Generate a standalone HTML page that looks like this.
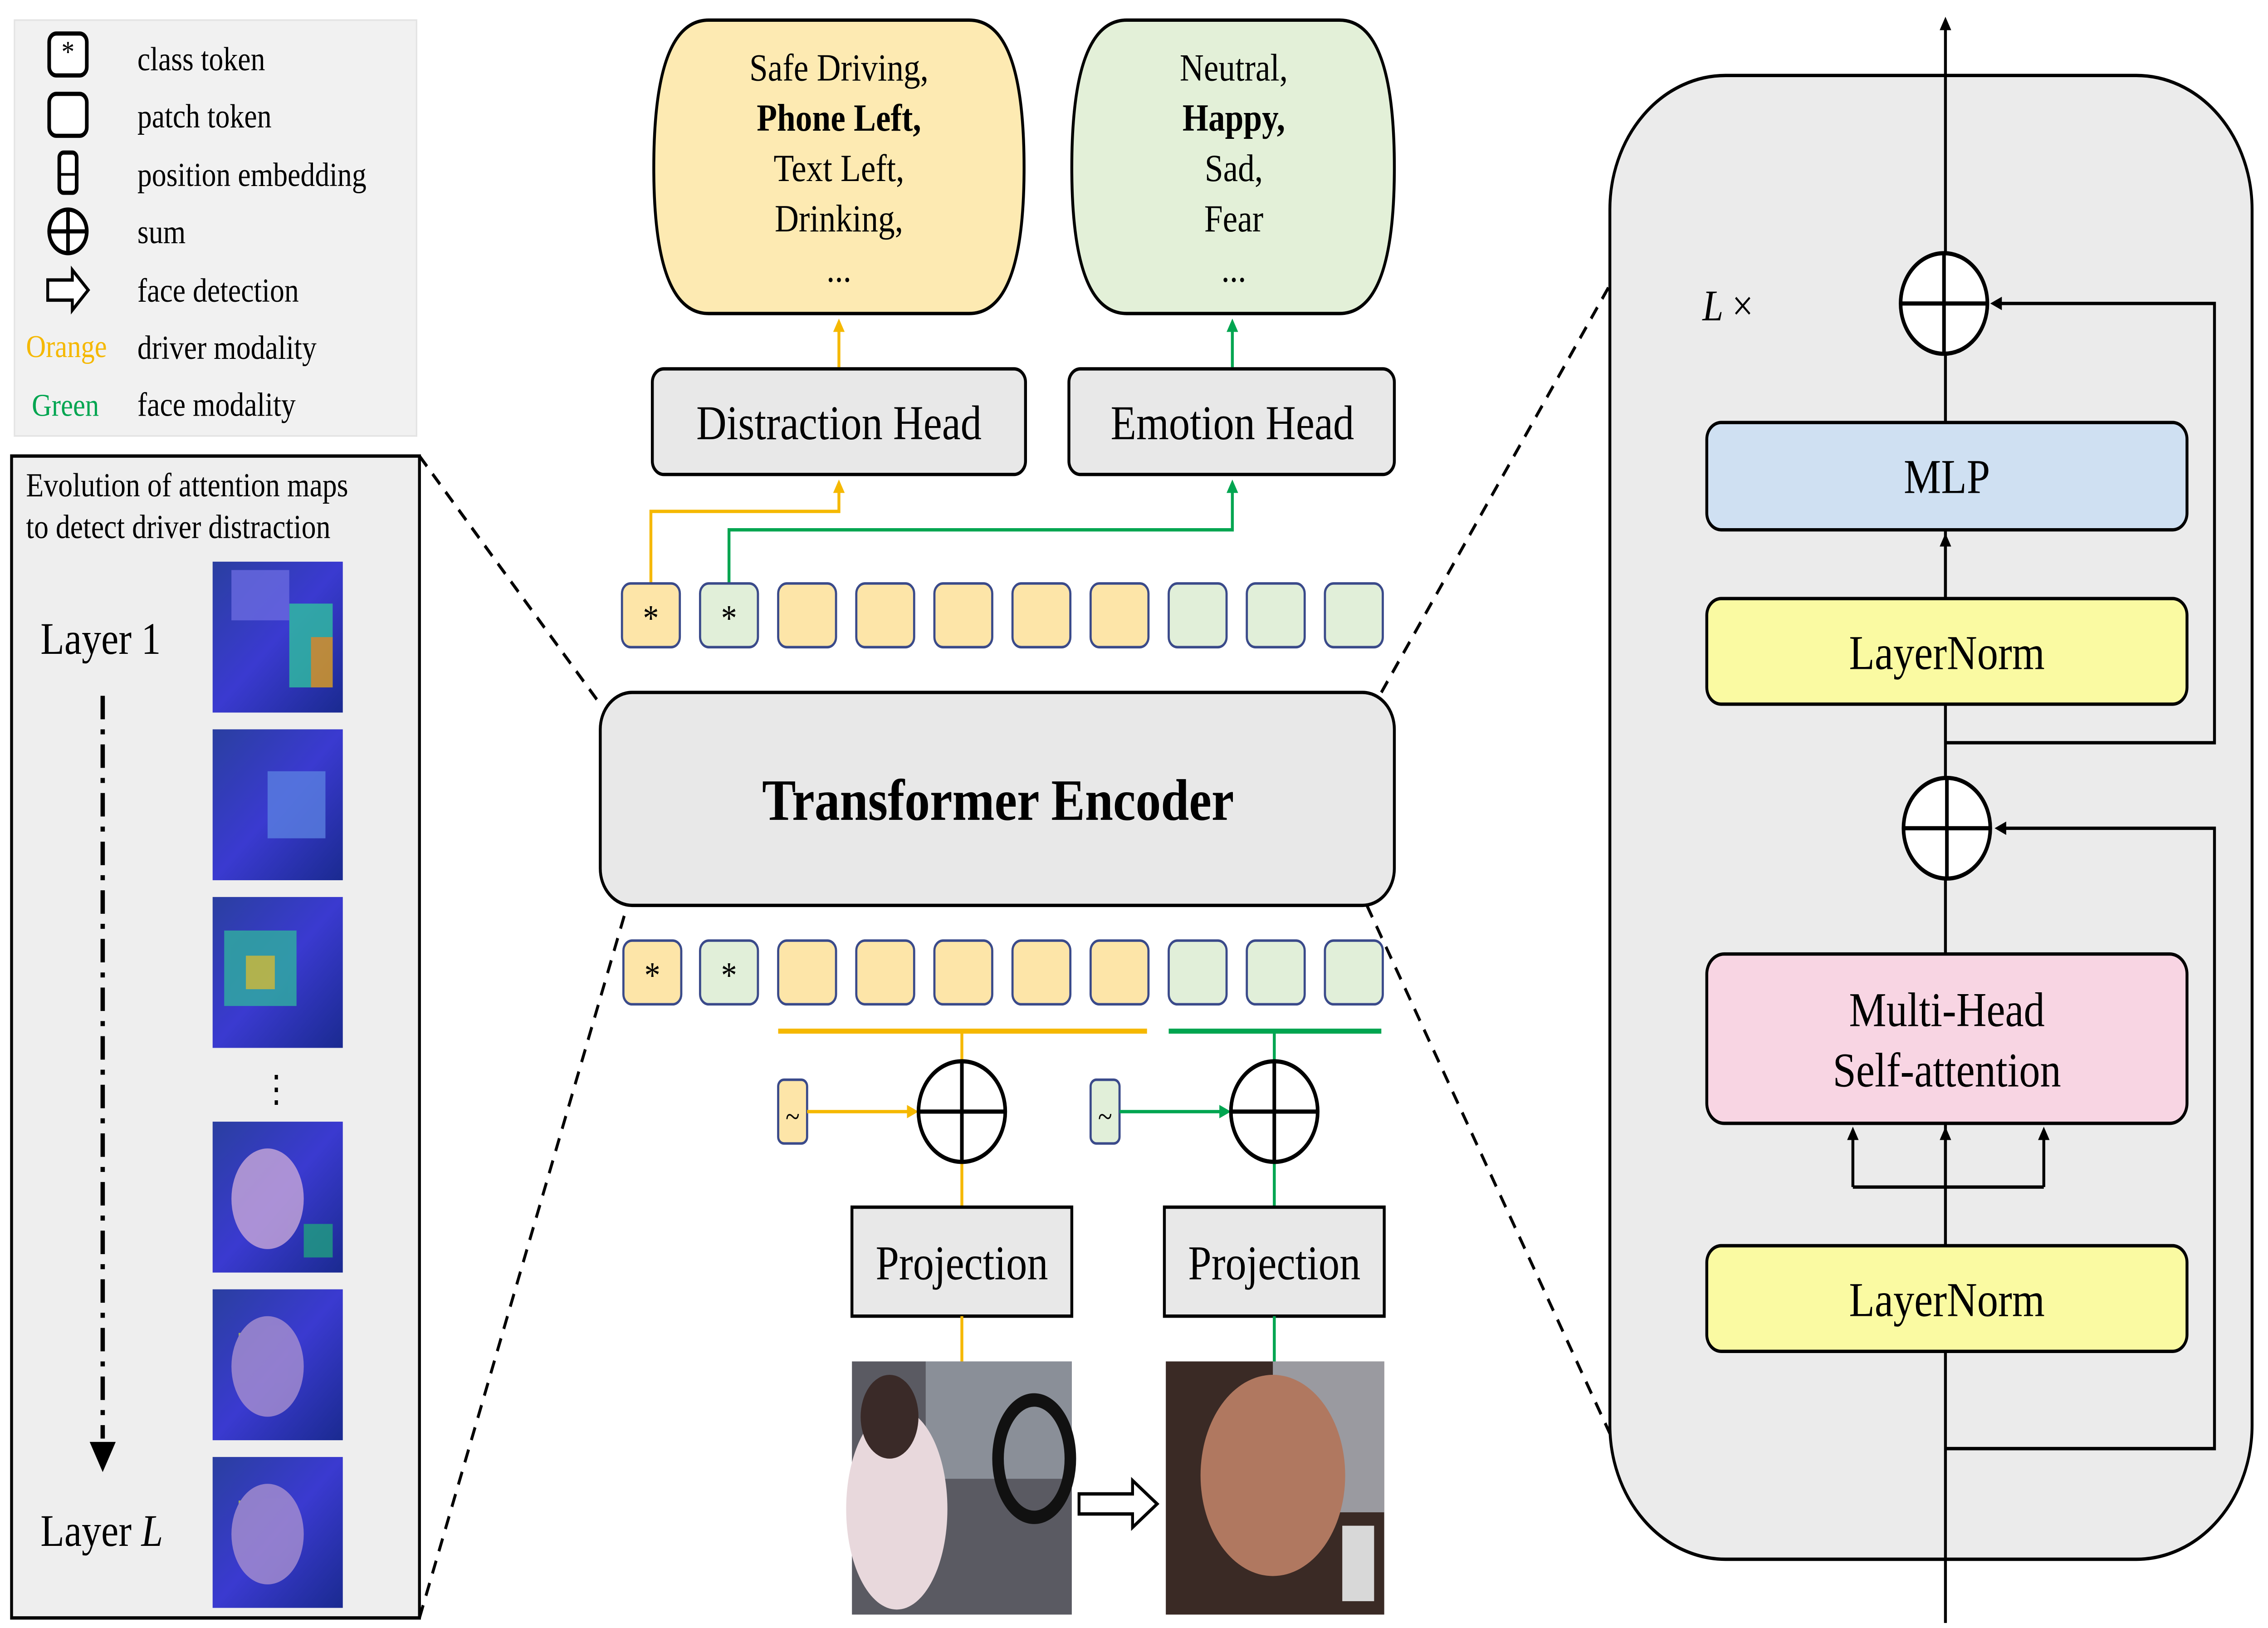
<!DOCTYPE html>
<html><head><meta charset="utf-8">
<style>
html,body{margin:0;padding:0;background:#fff;overflow:hidden;width:100vw;height:100vh}
svg{display:block;position:absolute;left:0;top:0;width:100vw;height:100vh}
text{font-family:"Liberation Serif",serif}
</style></head><body>
<svg viewBox="0 0 1568 971" preserveAspectRatio="none" xmlns="http://www.w3.org/2000/svg">
<defs>
<marker id="ak" markerWidth="8" markerHeight="8" refX="6" refY="4" orient="auto" markerUnits="userSpaceOnUse"><path d="M0,0 L8,4 L0,8 z" fill="#000"/></marker>
<marker id="ao" markerWidth="8" markerHeight="8" refX="6" refY="4" orient="auto" markerUnits="userSpaceOnUse"><path d="M0,0 L8,4 L0,8 z" fill="#f5b800"/></marker>
<marker id="ag" markerWidth="8" markerHeight="8" refX="6" refY="4" orient="auto" markerUnits="userSpaceOnUse"><path d="M0,0 L8,4 L0,8 z" fill="#00a550"/></marker>
<linearGradient id="hm" x1="0" y1="0" x2="1" y2="1"><stop offset="0" stop-color="#2a3fa0"/><stop offset="0.5" stop-color="#3a3ad0"/><stop offset="1" stop-color="#1a2a90"/></linearGradient>
</defs>
<rect x="10" y="12" width="278" height="248" fill="#f1f1f1" stroke="#e4e4e4"/>
<rect x="34" y="20" width="26" height="25" rx="5" fill="#fff" stroke="#000" stroke-width="2.5"/><text x="47" y="37" font-size="18" text-anchor="middle">*</text>
<rect x="34" y="56" width="26" height="25" rx="5" fill="#fff" stroke="#000" stroke-width="2.5"/>
<rect x="41" y="91" width="12" height="24" rx="3" fill="#fff" stroke="#000" stroke-width="2.5"/><line x1="41" y1="104" x2="53" y2="104" stroke="#000" stroke-width="1.5"/>
<circle cx="47" cy="138" r="13" fill="#fff" stroke="#000" stroke-width="2.5"/><line x1="34" y1="138" x2="60" y2="138" stroke="#000" stroke-width="2.5"/><line x1="47" y1="125" x2="47" y2="151" stroke="#000" stroke-width="2.5"/>
<path d="M33,167 L50,167 L50,161 L61,173 L50,185 L50,179 L33,179 z" fill="#fff" stroke="#000" stroke-width="2"/>
<g font-size="20"><text x="95" y="42">class token</text><text x="95" y="76">patch token</text><text x="95" y="111">position embedding</text><text x="95" y="145">sum</text><text x="95" y="180">face detection</text><text x="95" y="214">driver modality</text><text x="95" y="248">face modality</text>
<text x="18" y="213" fill="#f5b800" font-size="19">Orange</text><text x="22" y="248" fill="#00a550" font-size="19">Green</text></g>
<rect x="8" y="272" width="282" height="693" fill="#eeeeee" stroke="#000" stroke-width="2"/>
<text x="18" y="296" font-size="20">Evolution of attention maps</text><text x="18" y="321" font-size="20">to detect driver distraction</text>
<text x="28" y="390" font-size="27">Layer 1</text><text x="28" y="922" font-size="27">Layer <tspan font-style="italic">L</tspan></text>
<line x1="71" y1="415" x2="71" y2="858" stroke="#000" stroke-width="3" stroke-dasharray="14,6,3,6"/>
<path d="M62,860 L80,860 L71,878 z" fill="#000"/>
<g fill="url(#hm)">
<rect x="147" y="335" width="90" height="90"/><rect x="147" y="435" width="90" height="90"/><rect x="147" y="535" width="90" height="90"/>
<rect x="147" y="669" width="90" height="90"/><rect x="147" y="769" width="90" height="90"/><rect x="147" y="869" width="90" height="90"/></g>
<g opacity="0.8"><rect x="200" y="360" width="30" height="50" fill="#30c0a0"/><rect x="215" y="380" width="15" height="30" fill="#e0a020"/><rect x="160" y="340" width="40" height="30" fill="#6a6ae0"/>
<rect x="185" y="460" width="40" height="40" fill="#5a80e0"/><rect x="155" y="555" width="50" height="45" fill="#30b0a0"/><rect x="170" y="570" width="20" height="20" fill="#d0d030"/>
<rect x="210" y="730" width="20" height="20" fill="#20a080"/><rect x="165" y="795" width="15" height="25" fill="#c0d040"/><rect x="165" y="895" width="10" height="20" fill="#c0d040"/>
<ellipse cx="185" cy="715" rx="25" ry="30" fill="#c8a8d8"/><ellipse cx="185" cy="815" rx="25" ry="30" fill="#a890d0"/><ellipse cx="185" cy="915" rx="25" ry="30" fill="#a890d0"/></g>
<text x="191" y="657" font-size="22" text-anchor="middle">⋮</text>
<g stroke="#000" stroke-width="2" stroke-dasharray="8,6" fill="none">
<line x1="290" y1="272" x2="415" y2="420"/><line x1="290" y1="965" x2="432" y2="545"/>
<line x1="955" y1="413" x2="1113" y2="170"/><line x1="945" y1="540" x2="1113" y2="855"/></g>
<path d="M490,12 L670,12 Q708,12 708,100 Q708,187 670,187 L490,187 Q452,187 452,100 Q452,12 490,12 z" fill="#fdeab2" stroke="#000" stroke-width="2"/>
<path d="M779,12 L926,12 Q964,12 964,100 Q964,187 926,187 L779,187 Q741,187 741,100 Q741,12 779,12 z" fill="#e3f0d8" stroke="#000" stroke-width="2"/>
<g font-size="23" text-anchor="middle"><text x="580" y="48">Safe Driving,</text><text x="580" y="78" font-weight="bold">Phone Left,</text><text x="580" y="108">Text Left,</text><text x="580" y="138">Drinking,</text><text x="580" y="168">...</text>
<text x="853" y="48">Neutral,</text><text x="853" y="78" font-weight="bold">Happy,</text><text x="853" y="108">Sad,</text><text x="853" y="138">Fear</text><text x="853" y="168">...</text></g>
<line x1="580" y1="219" x2="580" y2="192" stroke="#f5b800" stroke-width="2" marker-end="url(#ao)"/>
<line x1="852" y1="219" x2="852" y2="192" stroke="#00a550" stroke-width="2" marker-end="url(#ag)"/>
<rect x="451" y="220" width="258" height="63" rx="8" fill="#e8e8e8" stroke="#000" stroke-width="2"/>
<rect x="739" y="220" width="225" height="63" rx="8" fill="#e8e8e8" stroke="#000" stroke-width="2"/>
<text x="580" y="262" font-size="29" text-anchor="middle">Distraction Head</text><text x="852" y="262" font-size="29" text-anchor="middle">Emotion Head</text>
<polyline points="450,348 450,305 580,305 580,288" fill="none" stroke="#f5b800" stroke-width="2" marker-end="url(#ao)"/>
<polyline points="504,348 504,316 852,316 852,288" fill="none" stroke="#00a550" stroke-width="2" marker-end="url(#ag)"/>
<g stroke="#3a4a8a" stroke-width="1.5">
<g fill="#fde5a8"><rect x="430" y="348" width="40" height="38" rx="6"/><rect x="538" y="348" width="40" height="38" rx="6"/><rect x="592" y="348" width="40" height="38" rx="6"/><rect x="646" y="348" width="40" height="38" rx="6"/><rect x="700" y="348" width="40" height="38" rx="6"/><rect x="754" y="348" width="40" height="38" rx="6"/>
<rect x="431" y="561" width="40" height="38" rx="6"/><rect x="538" y="561" width="40" height="38" rx="6"/><rect x="592" y="561" width="40" height="38" rx="6"/><rect x="646" y="561" width="40" height="38" rx="6"/><rect x="700" y="561" width="40" height="38" rx="6"/><rect x="754" y="561" width="40" height="38" rx="6"/><rect x="538" y="644" width="20" height="38" rx="4"/></g>
<g fill="#e1efd9"><rect x="484" y="348" width="40" height="38" rx="6"/><rect x="808" y="348" width="40" height="38" rx="6"/><rect x="862" y="348" width="40" height="38" rx="6"/><rect x="916" y="348" width="40" height="38" rx="6"/>
<rect x="484" y="561" width="40" height="38" rx="6"/><rect x="808" y="561" width="40" height="38" rx="6"/><rect x="862" y="561" width="40" height="38" rx="6"/><rect x="916" y="561" width="40" height="38" rx="6"/><rect x="754" y="644" width="20" height="38" rx="4"/></g></g>
<g font-size="22" text-anchor="middle"><text x="450" y="376">*</text><text x="504" y="376">*</text><text x="451" y="589">*</text><text x="504" y="589">*</text><text x="548" y="672" font-size="18">~</text><text x="764" y="672" font-size="18">~</text></g>
<rect x="415" y="413" width="549" height="127" rx="22" fill="#e8e8e8" stroke="#000" stroke-width="2"/>
<text x="690" y="489" font-size="35" font-weight="bold" text-anchor="middle">Transformer Encoder</text>
<line x1="538" y1="615" x2="793" y2="615" stroke="#f5b800" stroke-width="3"/><line x1="808" y1="615" x2="955" y2="615" stroke="#00a550" stroke-width="3"/>
<line x1="665" y1="615" x2="665" y2="720" stroke="#f5b800" stroke-width="2"/><line x1="881" y1="615" x2="881" y2="720" stroke="#00a550" stroke-width="2"/>
<line x1="558" y1="663" x2="633" y2="663" stroke="#f5b800" stroke-width="2" marker-end="url(#ao)"/>
<line x1="774" y1="663" x2="849" y2="663" stroke="#00a550" stroke-width="2" marker-end="url(#ag)"/>
<g fill="#fff" stroke="#000" stroke-width="2.5"><circle cx="665" cy="663" r="30"/><circle cx="881" cy="663" r="30"/></g>
<g stroke="#000" stroke-width="2.5"><line x1="635" y1="663" x2="695" y2="663"/><line x1="665" y1="633" x2="665" y2="693"/><line x1="851" y1="663" x2="911" y2="663"/><line x1="881" y1="633" x2="881" y2="693"/></g>
<rect x="589" y="720" width="152" height="65" fill="#e8e8e8" stroke="#000" stroke-width="2"/><rect x="805" y="720" width="152" height="65" fill="#e8e8e8" stroke="#000" stroke-width="2"/>
<text x="665" y="763" font-size="29" text-anchor="middle">Projection</text><text x="881" y="763" font-size="29" text-anchor="middle">Projection</text>
<line x1="665" y1="785" x2="665" y2="812" stroke="#f5b800" stroke-width="2"/><line x1="881" y1="785" x2="881" y2="812" stroke="#00a550" stroke-width="2"/>
<rect x="589" y="812" width="152" height="151" fill="#5a5a62"/><rect x="640" y="812" width="101" height="70" fill="#8a8f98"/><ellipse cx="620" cy="900" rx="35" ry="60" fill="#e8d8dc"/><ellipse cx="615" cy="845" rx="20" ry="25" fill="#3a2a28"/><ellipse cx="715" cy="870" rx="25" ry="35" fill="none" stroke="#111" stroke-width="8"/>
<rect x="806" y="812" width="151" height="151" fill="#3a2a25"/><rect x="880" y="812" width="77" height="90" fill="#9a9aa0"/><ellipse cx="880" cy="880" rx="50" ry="60" fill="#b07860"/><rect x="928" y="910" width="22" height="45" fill="#d8d8d8"/>
<path d="M746,891 L783,891 L783,883 L800,897 L783,911 L783,903 L746,903 z" fill="#fff" stroke="#000" stroke-width="2"/>
<rect x="1113" y="45" width="444" height="885" rx="80" fill="#ebebeb" stroke="#000" stroke-width="2"/>
<line x1="1345" y1="968" x2="1345" y2="12" stroke="#000" stroke-width="2" marker-end="url(#ak)"/>
<text x="1177" y="191" font-size="26" font-style="italic">L <tspan font-style="normal">×</tspan></text>
<polyline points="1345,443 1531,443 1531,181 1378,181" fill="none" stroke="#000" stroke-width="2" marker-end="url(#ak)"/>
<polyline points="1345,864 1531,864 1531,494 1381,494" fill="none" stroke="#000" stroke-width="2" marker-end="url(#ak)"/>
<polyline points="1281,708 1413,708" fill="none" stroke="#000" stroke-width="2"/>
<line x1="1281" y1="708" x2="1281" y2="674" stroke="#000" stroke-width="2" marker-end="url(#ak)"/><line x1="1413" y1="708" x2="1413" y2="674" stroke="#000" stroke-width="2" marker-end="url(#ak)"/><line x1="1345" y1="708" x2="1345" y2="674" stroke="#000" stroke-width="2" marker-end="url(#ak)"/>
<line x1="1345" y1="357" x2="1345" y2="320" stroke="#000" stroke-width="2" marker-end="url(#ak)"/>
<g fill="#fff" stroke="#000" stroke-width="2.5"><circle cx="1344" cy="181" r="30"/><circle cx="1346" cy="494" r="30"/></g>
<g stroke="#000" stroke-width="2.5"><line x1="1314" y1="181" x2="1374" y2="181"/><line x1="1344" y1="151" x2="1344" y2="211"/><line x1="1316" y1="494" x2="1376" y2="494"/><line x1="1346" y1="464" x2="1346" y2="524"/></g>
<rect x="1180" y="252" width="332" height="64" rx="10" fill="#cfe0f2" stroke="#000" stroke-width="2"/>
<rect x="1180" y="357" width="332" height="63" rx="10" fill="#fafaa2" stroke="#000" stroke-width="2"/>
<rect x="1180" y="569" width="332" height="101" rx="12" fill="#f8d5e3" stroke="#000" stroke-width="2"/>
<rect x="1180" y="743" width="332" height="63" rx="10" fill="#fafaa2" stroke="#000" stroke-width="2"/>
<g font-size="29" text-anchor="middle"><text x="1346" y="294">MLP</text><text x="1346" y="399">LayerNorm</text><text x="1346" y="612">Multi-Head</text><text x="1346" y="648">Self-attention</text><text x="1346" y="785">LayerNorm</text></g>
</svg>
</body></html>
